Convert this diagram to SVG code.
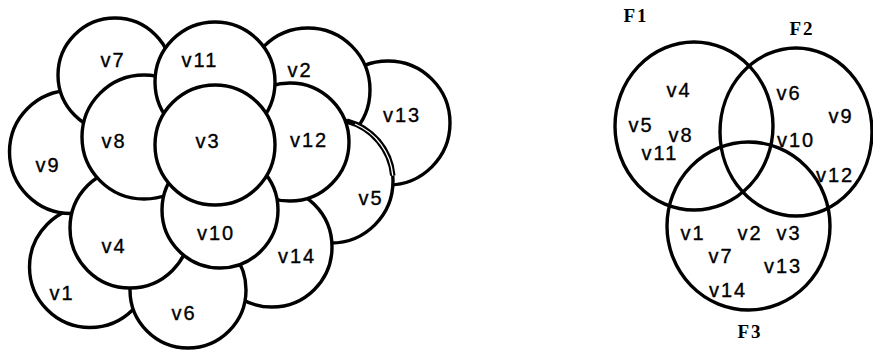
<svg xmlns="http://www.w3.org/2000/svg" width="873" height="353" viewBox="0 0 873 353">
  <style>
    .disc { fill: #fff; stroke: #000; stroke-width: 3.4; }
    .ring { fill: none; stroke: #000; stroke-width: 3.4; }
    .lbl { font-family: "Liberation Sans", Arial, sans-serif; font-size: 20px; letter-spacing: 2px; text-anchor: middle; fill: #000; stroke: #000; stroke-width: 0.35; }
    .set { font-family: "Liberation Serif", "Times New Roman", serif; font-size: 19px; font-weight: bold; letter-spacing: 2px; text-anchor: middle; fill: #000; }
  </style>
  <rect width="873" height="353" fill="#fff"/>

  <!-- Left: overlapping discs, painted back to front -->
  <g id="discs">
    <g id="v13"><circle class="disc" cx="388" cy="123" r="62"/><text class="lbl" x="402" y="122">v13</text></g>
    <g id="v2"><circle class="disc" cx="308" cy="90" r="62"/><text class="lbl" x="300" y="77">v2</text></g>
    <g id="v5">
      <circle class="disc" cx="331" cy="181" r="62"/>
      <!-- doubled rim where v5 rests on v13 -->
      <path d="M347,121.1 A62,62 0 0 1 392.8,175.6" fill="none" stroke="#000" stroke-width="5.5"/>
      <path d="M355,124 A62,62 0 0 1 392.8,175.6" fill="none" stroke="#fff" stroke-width="1.3"/>
      <text class="lbl" x="371" y="205">v5</text>
    </g>
    <g id="v14"><circle class="disc" cx="272" cy="247" r="60"/><text class="lbl" x="297" y="263">v14</text></g>
    <g id="v1"><circle class="disc" cx="90" cy="267" r="60.5"/><text class="lbl" x="62" y="300">v1</text></g>
    <g id="v6"><circle class="disc" cx="188" cy="290" r="58"/><text class="lbl" x="184" y="320">v6</text></g>
    <g id="v9"><circle class="disc" cx="71" cy="152" r="61.5"/><text class="lbl" x="48" y="172">v9</text></g>
    <g id="v7"><circle class="disc" cx="115" cy="75" r="57"/><text class="lbl" x="113" y="67">v7</text></g>
    <g id="v4"><circle class="disc" cx="130" cy="228" r="60"/><text class="lbl" x="114" y="253">v4</text></g>
    <g id="v12"><circle class="disc" cx="290" cy="142" r="59"/><text class="lbl" x="309" y="147">v12</text></g>
    <g id="v8"><circle class="disc" cx="144" cy="137" r="62"/><text class="lbl" x="114" y="148">v8</text></g>
    <g id="v11"><circle class="disc" cx="215" cy="82" r="60"/><text class="lbl" x="200" y="67">v11</text></g>
    <g id="v10"><circle class="disc" cx="220" cy="210" r="58"/><text class="lbl" x="216" y="240">v10</text></g>
    <g id="v3"><circle class="disc" cx="215" cy="145" r="60"/><text class="lbl" x="208" y="148">v3</text></g>
  </g>

  <!-- Right: three-set diagram -->
  <g id="F1"><ellipse class="ring" cx="694" cy="126" rx="79" ry="84"/><text class="set" x="636" y="22">F1</text></g>
  <g id="F2"><ellipse class="ring" cx="796" cy="132" rx="76" ry="84"/><text class="set" x="802" y="35">F2</text></g>
  <g id="F3"><ellipse class="ring" cx="748.5" cy="226" rx="81.5" ry="84"/><text class="set" x="750" y="338">F3</text></g>

  <g id="members">
    <text class="lbl" x="679" y="97">v4</text>
    <text class="lbl" x="641" y="132">v5</text>
    <text class="lbl" x="681" y="142">v8</text>
    <text class="lbl" x="660" y="160">v11</text>
    <text class="lbl" x="789" y="100">v6</text>
    <text class="lbl" x="841" y="123">v9</text>
    <text class="lbl" x="796" y="147">v10</text>
    <text class="lbl" x="835" y="182">v12</text>
    <text class="lbl" x="693" y="240">v1</text>
    <text class="lbl" x="750" y="240">v2</text>
    <text class="lbl" x="789" y="240">v3</text>
    <text class="lbl" x="721" y="263">v7</text>
    <text class="lbl" x="783" y="273">v13</text>
    <text class="lbl" x="728" y="297">v14</text>
  </g>
</svg>
